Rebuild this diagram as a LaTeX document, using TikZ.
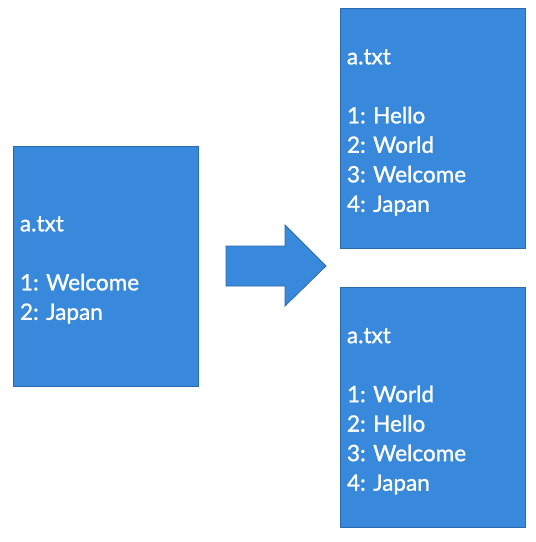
\documentclass[tikz,border=0pt]{standalone}
\usepackage{fontspec}
\setmainfont{Lato}
\newfontfamily\filefont{Lato}[FakeBold=1.2]
\usetikzlibrary{positioning}
\definecolor{fileblue}{HTML}{3889DB}
\definecolor{fileedge}{HTML}{2C6AAE}
\newcommand{\toppad}{\rule{0pt}{23pt}}
\tikzset{
  filebox/.style={draw=fileedge, fill=fileblue, line width=0.8pt,
    minimum width=185pt, minimum height=240pt, text width=171pt,
    inner xsep=7pt, align=left, text=white,
    font=\filefont\frenchspacing\fontsize{22.5}{29.5}\selectfont},
  blockarrow/.style={draw=fileedge, fill=fileblue, line width=0.8pt}
}

\begin{document}
\begin{tikzpicture}[x=1pt,y=-1pt]
	\useasboundingbox (0,0) rectangle (536,542);
	\node[filebox] (before) at (105.5,266) {\toppad a.txt\\[29.5pt]1: Welcome\\2: Japan};
	\node[filebox] (afterA) at (432.5,128.5) {\toppad a.txt\\[29.5pt]1: Hello\\2: World\\3: Welcome\\4: Japan};
	\node[filebox, below=38pt of afterA] (afterB) {\toppad a.txt\\[29.5pt]1: World\\2: Hello\\3: Welcome\\4: Japan};
	% the big arrow between them
	\coordinate (tail) at (226,266);
	\draw[blockarrow] (tail) ++(0,-20) -- ++(59,0) -- ++(0,-21) -- ++(41,41)
		-- ++(-41,40) -- ++(0,-20) -- ++(-59,0) -- cycle;
\end{tikzpicture}
\end{document}
